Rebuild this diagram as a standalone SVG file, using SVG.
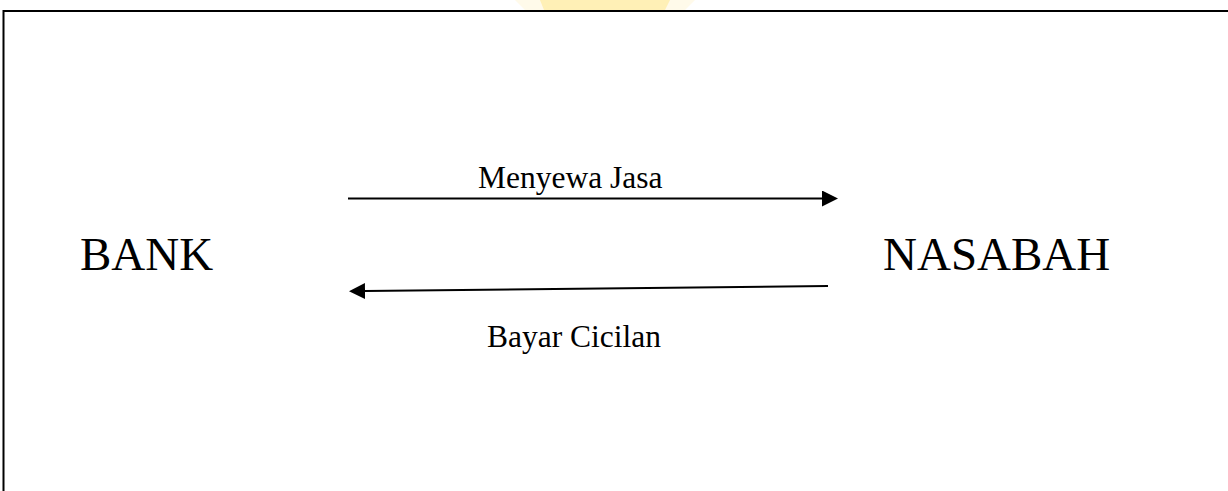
<svg xmlns="http://www.w3.org/2000/svg" width="1228" height="491" viewBox="0 0 1228 491">
  <style>
    .node { font-family: "Liberation Serif", "Times New Roman", serif; fill: #000; }
    .big { font-size: 47px; }
    .lbl { font-size: 31.5px; }
    .conn { stroke: #000; stroke-width: 2; fill: none; }
  </style>
  <defs>
    <marker id="ah" viewBox="0 0 16 16" refX="0" refY="8" markerWidth="16" markerHeight="16" markerUnits="userSpaceOnUse" orient="auto">
      <path d="M0,0 L16,8 L0,16 Z" fill="#000"/>
    </marker>
  </defs>
  <rect width="1228" height="491" fill="#fff"/>
  <g id="watermark">
    <path d="M515,0 L695,0 L685,10 L525,10 Z" fill="#fffaea"/>
    <path d="M540,0 L670,0 L665,10 L544,10 Z" fill="#fff0b6"/>
  </g>
  <g id="frame">
    <path d="M3.5,491 L3.5,11 L1228,11" stroke="#000" stroke-width="2" fill="none"/>
  </g>
  <g id="bank">
    <text class="node big" x="80" y="270">BANK</text>
  </g>
  <g id="nasabah">
    <text class="node big" x="883" y="270">NASABAH</text>
  </g>
  <g id="connectors">
    <g id="menyewa-jasa">
      <line class="conn" x1="348" y1="198.5" x2="822" y2="198.5" marker-end="url(#ah)"/>
      <text class="node lbl" x="478" y="188">Menyewa Jasa</text>
    </g>
    <g id="bayar-cicilan">
      <line class="conn" x1="828" y1="286" x2="365" y2="291" marker-end="url(#ah)"/>
      <text class="node lbl" x="487" y="347">Bayar Cicilan</text>
    </g>
  </g>
</svg>
